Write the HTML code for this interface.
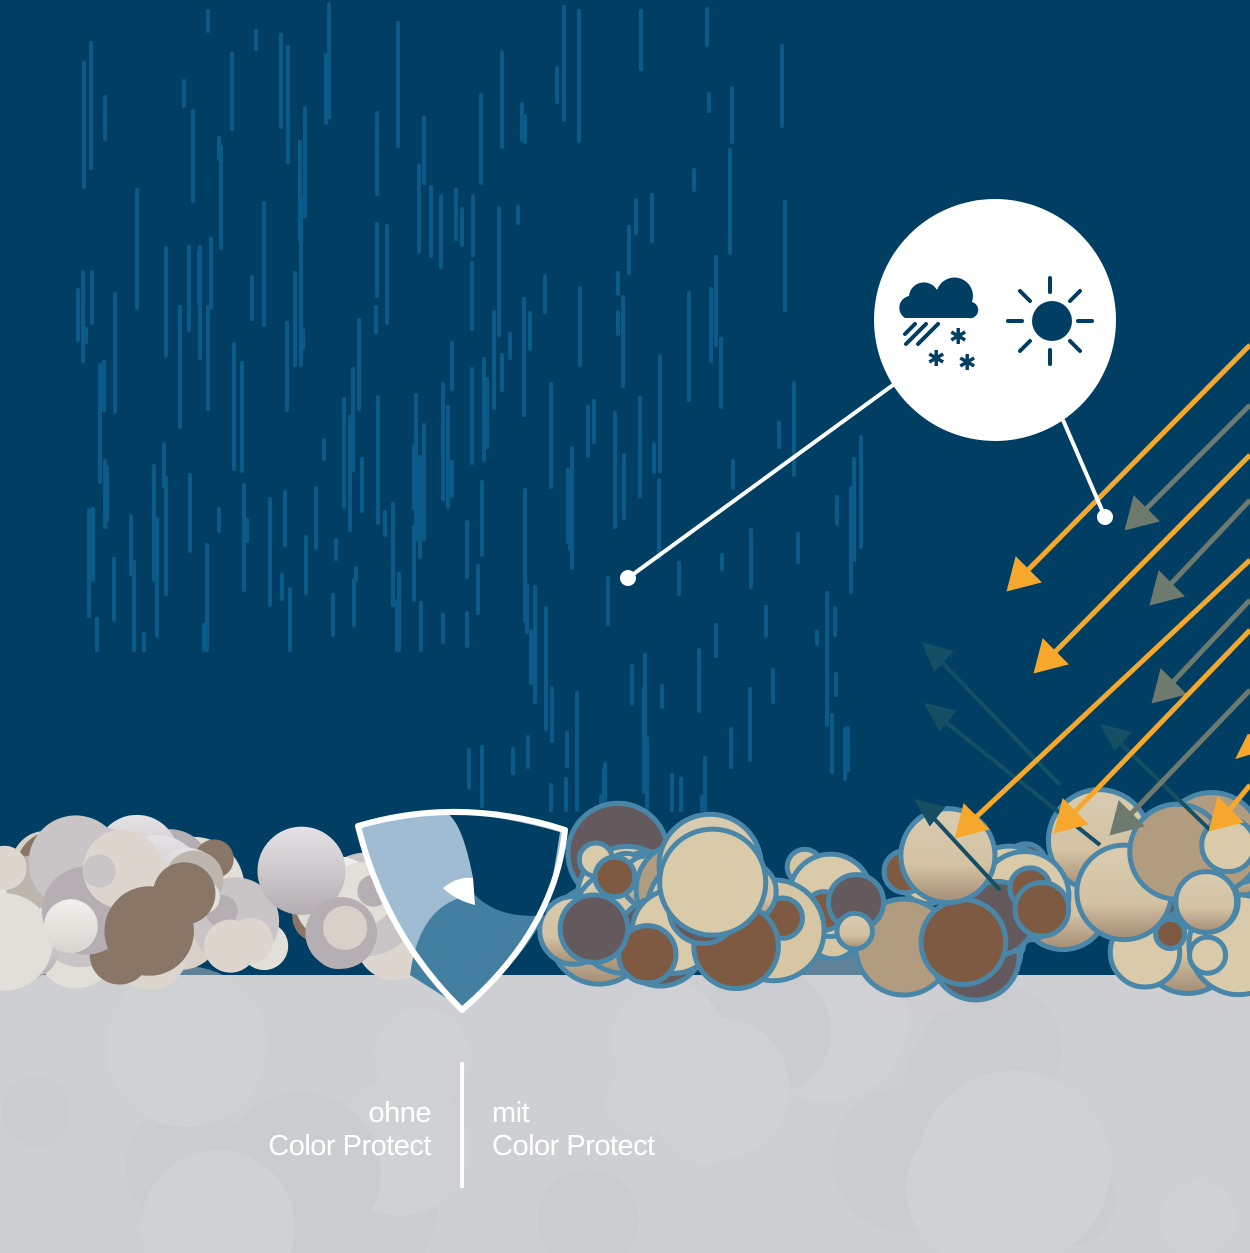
<!DOCTYPE html>
<html><head><meta charset="utf-8">
<style>
html,body{margin:0;padding:0;width:1250px;height:1253px;overflow:hidden;background:#003f63}
svg{display:block}
text{font-family:"Liberation Sans",sans-serif;fill:#fff}
</style></head><body>
<svg id="s" width="1250" height="1253" viewBox="0 0 1250 1253" xmlns="http://www.w3.org/2000/svg">
<defs>
<linearGradient id="gb" x1="0" y1="0" x2="0" y2="1"><stop offset="0" stop-color="#d9ccb0"/><stop offset="0.6" stop-color="#d3c2a4"/><stop offset="1" stop-color="#a38c74"/></linearGradient>
<linearGradient id="gg" x1="0" y1="0" x2="0" y2="1"><stop offset="0" stop-color="#f2f0ed"/><stop offset="1" stop-color="#d8d4ce"/></linearGradient>
<linearGradient id="gg2" x1="0" y1="0" x2="0" y2="1"><stop offset="0" stop-color="#e6e3e6"/><stop offset="1" stop-color="#b3adb2"/></linearGradient>
</defs>
<rect width="1250" height="1253" fill="#003f63"/>
<g id="rain" stroke="#0b5b8a" stroke-width="4" stroke-linecap="round"></g>
<rect x="0" y="975" width="1250" height="278" fill="#cdcfd2"/>
<g id="ground" opacity="0.45"></g>
<g id="greyb"></g>
<g id="brownb" stroke="#4a86a8" stroke-width="5"></g>
<!-- up-left teal arrows -->
<g stroke="#144f64" stroke-width="4" fill="#144f64">
<line x1="1060" y1="785" x2="935" y2="655"/><polygon points="925,645 950,652 935,668"/>
<line x1="1100" y1="845" x2="938" y2="716"/><polygon points="928,706 953,712 940,728"/>
<line x1="1000" y1="890" x2="928" y2="812"/><polygon points="918,802 942,808 930,823"/>
<line x1="1210" y1="830" x2="1114" y2="737"/><polygon points="1104,727 1128,733 1115,748"/>
</g>
<!-- grey arrows -->
<g stroke="#6e7a6d" stroke-width="5" fill="#6e7a6d">
<line x1="1250" y1="405" x2="1143" y2="512"/><polygon points="1128,527 1135,500 1155,520"/>
<line x1="1250" y1="500" x2="1168" y2="587"/><polygon points="1153,602 1160,575 1180,595"/>
<line x1="1250" y1="600" x2="1170" y2="685"/><polygon points="1155,700 1162,673 1182,693"/>
<line x1="1250" y1="690" x2="1128" y2="817"/><polygon points="1113,832 1120,805 1140,825"/>
</g>
<!-- orange arrows -->
<g stroke="#f5a82c" stroke-width="5" fill="#f5a82c">
<line x1="1250" y1="345" x2="1025" y2="573"/><polygon points="1010,588 1017,561 1037,581"/>
<line x1="1250" y1="455" x2="1052" y2="655"/><polygon points="1037,670 1044,643 1064,663"/>
<line x1="1250" y1="560" x2="973" y2="820"/><polygon points="958,835 965,808 985,828"/>
<line x1="1250" y1="630" x2="1072" y2="815"/><polygon points="1057,830 1064,803 1084,823"/>
<line x1="1250" y1="785" x2="1227" y2="813"/><polygon points="1212,828 1219,801 1239,821"/>
<polygon points="1240,755 1250,735 1250,752"/>
</g>
<!-- callout -->
<g stroke="#fff" stroke-width="4">
<line x1="893" y1="385" x2="628" y2="578"/><line x1="1063" y1="420" x2="1105" y2="517"/>
</g>
<circle cx="628" cy="578" r="8" fill="#fff"/><circle cx="1105" cy="517" r="8" fill="#fff"/>
<circle cx="995" cy="320" r="121" fill="#fff"/>
<path d="M905,318 a12,12 0 0 1 4,-22 a15,15 0 0 1 28,-6 a12,12 0 0 1 35,12 a8,8 0 0 1 -4,16 z" fill="#003f63"/>
<g stroke="#003f63" stroke-width="4" stroke-linecap="round">
<line x1="905" y1="334" x2="915" y2="324"/><line x1="906" y1="344" x2="926" y2="324"/><line x1="918" y1="344" x2="938" y2="324"/>
<line x1="1050" y1="278" x2="1050" y2="292"/><line x1="1050" y1="350" x2="1050" y2="364"/>
<line x1="1008" y1="321" x2="1022" y2="321"/><line x1="1078" y1="321" x2="1092" y2="321"/>
<line x1="1020" y1="291" x2="1030" y2="301"/><line x1="1070" y1="341" x2="1080" y2="351"/>
<line x1="1080" y1="291" x2="1070" y2="301"/><line x1="1030" y1="341" x2="1020" y2="351"/>
</g>
<circle cx="1052" cy="321" r="20" fill="#003f63"/>
<text x="949" y="344" font-size="22" style="fill:#003f63;font-family:'DejaVu Sans'">✱</text><text x="927" y="366" font-size="22" style="fill:#003f63;font-family:'DejaVu Sans'">✱</text><text x="958" y="370" font-size="22" style="fill:#003f63;font-family:'DejaVu Sans'">✱</text>
<!-- shield -->
<path d="M358,826 Q460,796 565,830 Q555,930 462,1010 Q385,935 358,826 Z" fill="#a0bcd3"/>
<path d="M445,812 Q500,815 560,832 Q553,880 545,915 Q500,920 475,905 L473,878 Q462,820 445,812 Z" fill="#003f63"/>
<path d="M410,975 Q420,900 475,895 Q500,920 545,915 Q520,965 462,1008 Z" fill="#427fa0"/>
<path d="M443,888 Q458,876 473,878 L475,905 Q455,900 443,888 Z" fill="#fff"/>
<path d="M358,826 Q460,796 565,830 Q555,930 462,1010 Q385,935 358,826 Z" fill="none" stroke="#fff" stroke-width="6" stroke-linejoin="round"/>
<!-- labels -->
<text x="431" y="1122" font-size="29" text-anchor="end" letter-spacing="-0.5">ohne</text>
<text x="431" y="1155" font-size="29" text-anchor="end" letter-spacing="-0.5">Color Protect</text>
<text x="492" y="1122" font-size="29" letter-spacing="-0.5">mit</text>
<text x="492" y="1155" font-size="29" letter-spacing="-0.5">Color Protect</text>
<rect x="460" y="1062" width="4" height="126" fill="#fff"/>
</svg>
<script>
var s=11;function r(){s=(s*16807)%2147483647;return s/2147483647;}
var NS="http://www.w3.org/2000/svg";
function el(p,t,a){var e=document.createElementNS(NS,t);for(var k in a)e.setAttribute(k,a[k]);p.appendChild(e);return e;}
var rain=document.getElementById('rain');
for(var i=0;i<230;i++){var x=78+r()*790;var maxY=x<450?650:(x<850?810:700);var y=r()*maxY;var L=12+r()*120;
if(y+L>maxY)L=maxY-y; if(L<8)continue; if(x>700&&y<600&&r()<0.4)continue;
el(rain,'line',{x1:x.toFixed(0),y1:y.toFixed(0),x2:x.toFixed(0),y2:(y+L).toFixed(0)});}
var g=document.getElementById('ground');
for(var i=0;i<25;i++){el(g,'circle',{cx:r()*1250,cy:1000+r()*250,r:30+r()*70,fill:r()<0.5?'#c7c9cd':'#d3d5d8'});}
var gb=document.getElementById('greyb');
var gc=['url(#gg)','url(#gg2)','#b5afb3','#dcd6ce','#e2ded8','#bcb6ae','#8a7667','#d7d1c9','#c9c4c6'];
for(var i=0;i<70;i++){var x=r()*400;var y=855+r()*100;var rr=14+r()*38;el(gb,'circle',{cx:x,cy:y,r:rr,fill:gc[Math.floor(r()*gc.length)]});}
var bb=document.getElementById('brownb');
var bc=['url(#gb)','#645a5e','#d9cbaa','#b29c80','#7e5a42','url(#gb)','#d6c6a3'];
for(var i=0;i<80;i++){var x=550+r()*700;var y=840+r()*120;var rr=10+r()*45;if(y+rr>1000)rr=Math.max(10,1000-y);
el(bb,'circle',{cx:x,cy:y,r:rr,fill:bc[Math.floor(r()*bc.length)]});}
</script>
</body></html>
